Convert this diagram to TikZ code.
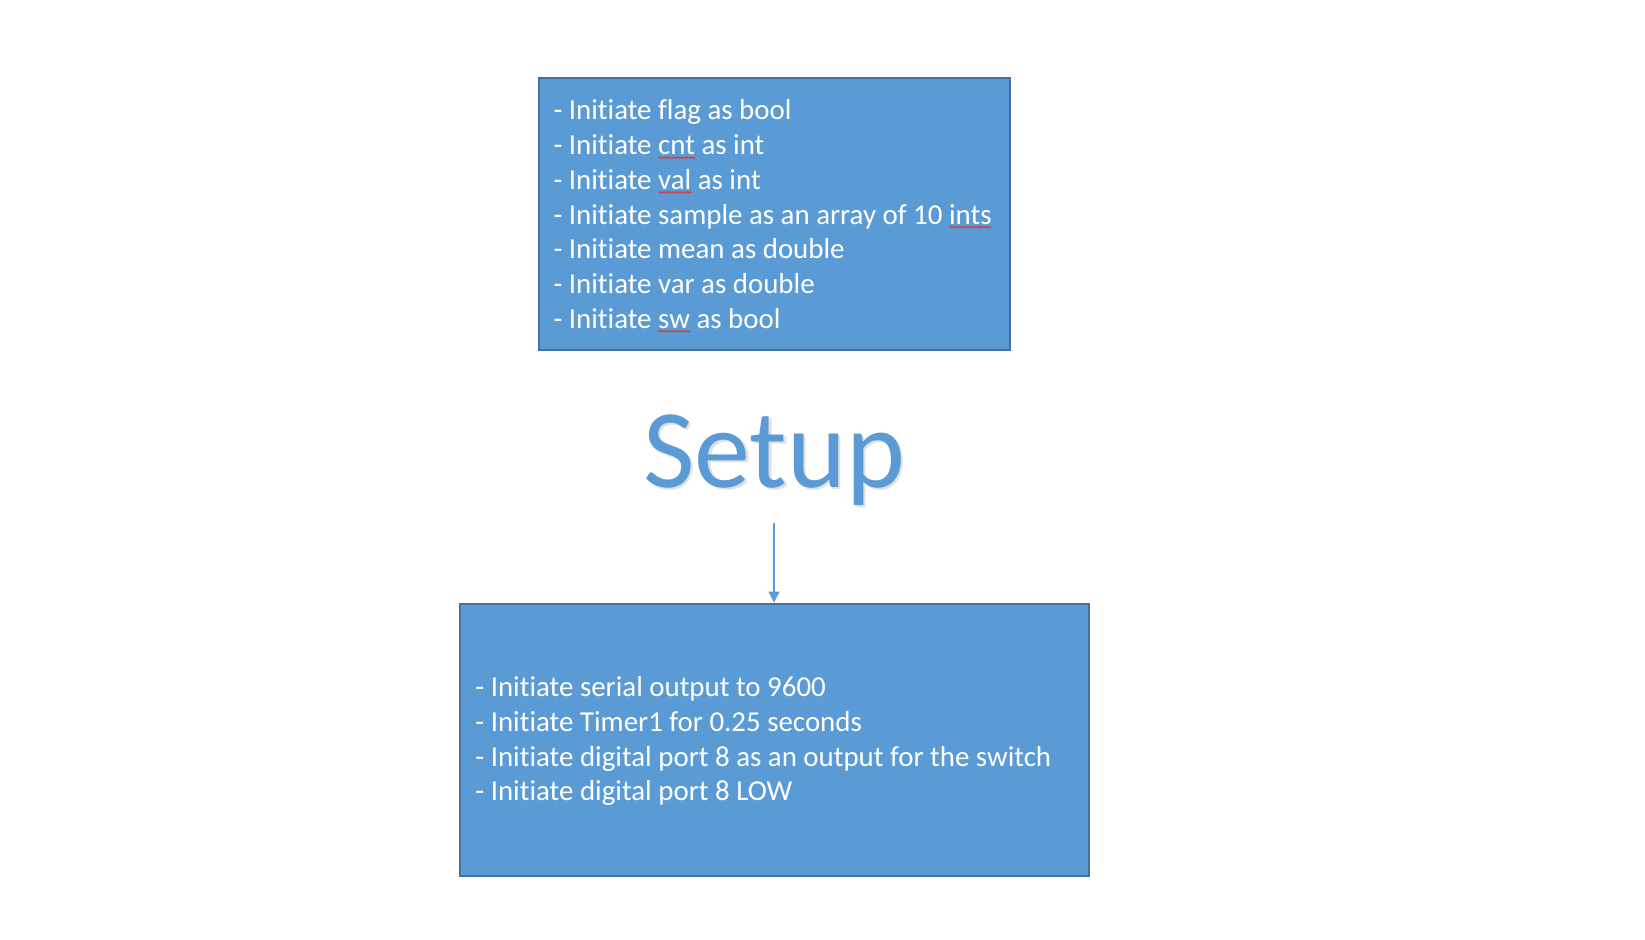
\documentclass[tikz,border=0pt]{standalone}
\usepackage{fontspec}
\setmainfont{Carlito}[Ligatures=NoCommon,RawFeature={-liga;-clig;-dlig}]
\usetikzlibrary{arrows.meta,decorations.pathmorphing}
\definecolor{boxfill}{HTML}{5B9BD5}
\definecolor{boxline}{HTML}{41719C}
\definecolor{spell}{HTML}{E03030}
\newsavebox\spellbox
\newcommand\spellerr[1]{\sbox\spellbox{#1}\rlap{\tikz[baseline=0pt]\draw[spell,line width=0.7pt,decorate,decoration={zigzag,segment length=2.6pt,amplitude=0.9pt}] (0pt,-3pt) -- (\wd\spellbox,-3pt);}\usebox\spellbox}
\tikzset{
  box/.style={draw=boxline, line width=2pt, fill=boxfill, inner sep=0pt},
  line/.style={text=white, anchor=base west, inner sep=0pt,
    font=\fontsize{28.9}{34.7}\selectfont},
  title/.style={anchor=base, inner sep=0pt, font=\fontsize{112}{134}\selectfont},
  conn/.style={draw=boxfill, line width=1.3pt, -{Triangle[length=11pt,width=11pt]}}
}
\begin{document}
\begin{tikzpicture}[x=1pt,y=-1pt]
\useasboundingbox (0,0) rectangle (1645,939);
\node[box, minimum width=471.5pt, minimum height=271.5pt] (top) at (774.25,214.25) {};
\node[box, minimum width=629pt, minimum height=272.5pt] (bot) at (774,739.75) {};
\node[line] (t1) at (553.3,120) {- Initiate flag as bool};
\node[line] (t2) at (553.3,154.7) {- Initiate \spellerr{cnt} as int};
\node[line] (t3) at (553.3,189.4) {- Initiate \spellerr{val} as int};
\node[line] (t4) at (553.3,224.1) {- Initiate sample as an array of 10 \spellerr{ints}};
\node[line] (t5) at (553.3,258.8) {- Initiate mean as double};
\node[line] (t6) at (553.3,293.5) {- Initiate var as double};
\node[line] (t7) at (553.3,328.2) {- Initiate \spellerr{sw} as bool};
\node[line] (b1) at (475.2,696.7) {- Initiate serial output to 9600};
\node[line] (b2) at (475.2,731.4) {- Initiate Timer1 for 0.25 seconds};
\node[line] (b3) at (475.2,766.1) {- Initiate digital port 8 as an output for the switch};
\node[line] (b4) at (475.2,800.8) {- Initiate digital port 8 LOW};
\node[title, text=black!35, opacity=0.35] (shadow) at (776.5,489.5) {Setup};
\node[title, text=boxfill] (setup) at (774,487) {Setup};
\coordinate (astart) at (774,523);
\draw[conn] (astart) -- (bot.north);
\end{tikzpicture}
\end{document}
